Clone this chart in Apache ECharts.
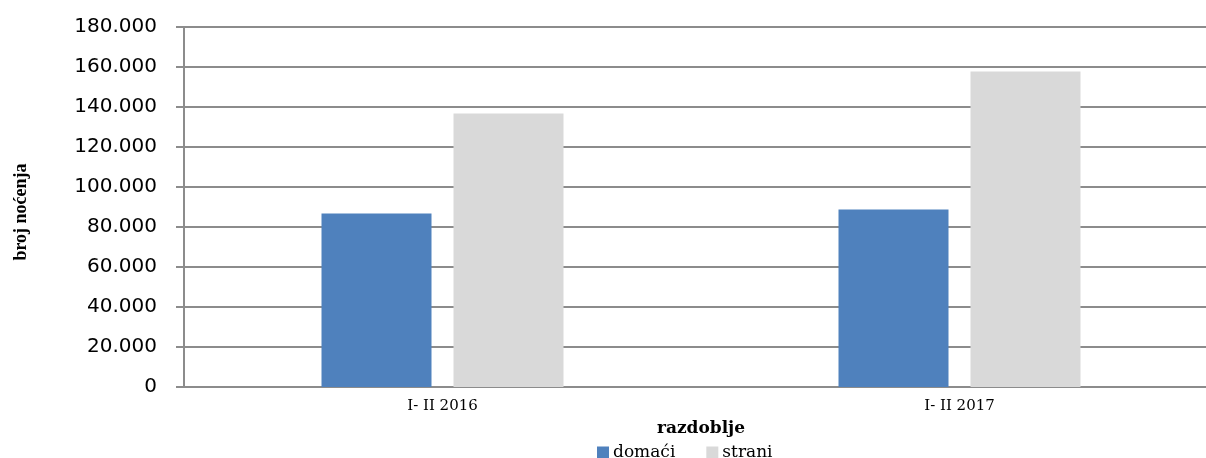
<!DOCTYPE html>
<html><head><meta charset="utf-8">
<script src="https://cdn.jsdelivr.net/npm/echarts@6/dist/echarts.min.js"></script>
<style>html,body{margin:0;padding:0;background:#fff;overflow:hidden;width:1206px;height:458px}#c{width:1218px;height:458px}</style>
</head><body><div id="c"></div>
<script>
var categories = ['I- II 2016', 'I- II 2017'];
var domaci = [86800, 88800];
var strani = [136800, 157800];
var yTicks = [0, 20000, 40000, 60000, 80000, 100000, 120000, 140000, 160000, 180000];

var chart = echarts.init(document.getElementById('c'));
chart.setOption({
  animation: false,
  backgroundColor: '#fff',
  grid: { left: 184, right: 0, top: 27, height: 360, containLabel: false },
  legend: {
    top: 444, left: 597, padding: 0, itemWidth: 12, itemHeight: 12, itemGap: 31,
    textStyle: { fontFamily: 'DejaVu Serif', fontSize: 17, color: '#000', padding: [0,0,0,-1] },
    data: [{ name: 'domaći', icon: 'rect' }, { name: 'strani', icon: 'rect' }]
  },
  xAxis: {
    type: 'category', data: categories,
    name: 'razdoblje', nameLocation: 'middle', nameGap: 33,
    nameTextStyle: { fontFamily: 'DejaVu Serif', fontWeight: 'bold', fontSize: 17, color: '#000' },
    axisLine: { lineStyle: { color: '#8c8c8c', width: 2 } },
    axisTick: { show: false },
    axisLabel: { fontFamily: 'DejaVu Serif', fontSize: 15, color: '#000', margin: 12 }
  },
  yAxis: {
    type: 'value', min: 0, max: 180000, interval: 20000,
    name: 'broj noćenja', nameLocation: 'middle', nameGap: 154, nameRotate: 90,
    nameTextStyle: { fontFamily: 'Liberation Serif', fontWeight: 'bold', fontSize: 18, color: '#000', padding: [0, 10, 0, 0] },
    axisLine: { show: true, lineStyle: { color: '#8c8c8c', width: 2 } },
    axisTick: { show: true, length: 8, lineStyle: { color: '#8c8c8c', width: 2 } },
    splitLine: { lineStyle: { color: '#8c8c8c', width: 2 } },
    axisLabel: {
      fontFamily: 'DejaVu Sans', fontSize: 20, color: '#000', margin: 27,
      formatter: function (v) { return v === 0 ? '0' : v.toLocaleString('de-DE'); }
    }
  },
  series: [
    { name: 'domaći', type: 'bar', data: domaci, barWidth: 110, barGap: '20%',
      itemStyle: { color: '#4f81bd' } },
    { name: 'strani', type: 'bar', data: strani, barWidth: 110,
      itemStyle: { color: '#d9d9d9' } }
  ]
});
</script></body></html>
